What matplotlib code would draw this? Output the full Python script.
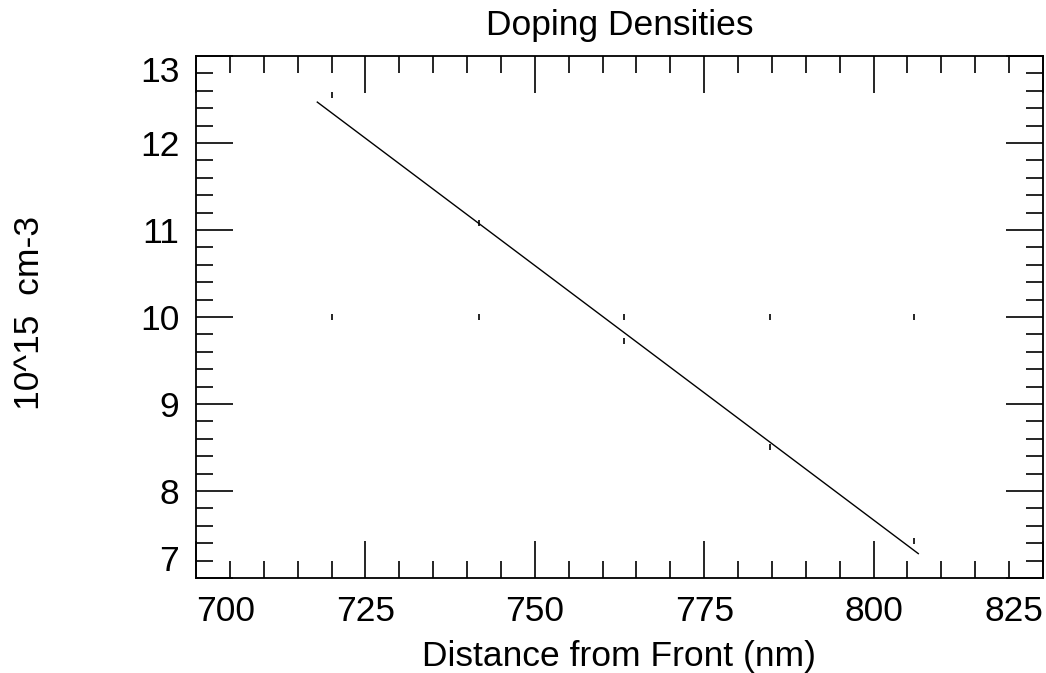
import matplotlib
matplotlib.use("Agg")
import matplotlib.pyplot as plt
from matplotlib.ticker import MultipleLocator

plt.rcParams["font.family"] = ["Liberation Sans", "DejaVu Sans"]

# fitted line (start / end)
fit_x = [717.9, 806.6]
fit_y = [12.47, 7.28]

# measured points (small vertical marks)
pts_x = [720.1, 741.8, 763.2, 784.7, 805.9]
pts_y = [12.55, 11.08, 9.72, 8.51, 7.42]
ref_y = [10.0, 10.0, 10.0, 10.0, 10.0]

x_ticks = [700, 725, 750, 775, 800, 825]
y_ticks = [7, 8, 9, 10, 11, 12, 13]

fig = plt.figure(figsize=(10.46, 6.73), dpi=100)
ax = fig.add_axes([0.1874, 0.1412, 0.8097, 0.7756])

ax.plot(fit_x, fit_y, color="black", lw=1.0)
ax.plot(pts_x, pts_y, ls="none", marker="|", ms=4.5, mew=1.2, color="black")
ax.plot(pts_x, ref_y, ls="none", marker="|", ms=4.5, mew=1.2, color="black")

ax.set_xlim(700, 825)
ax.set_ylim(7, 13)
ax.set_xticks(x_ticks)
ax.set_yticks(y_ticks)
ax.xaxis.set_minor_locator(MultipleLocator(5))
ax.yaxis.set_minor_locator(MultipleLocator(0.2))

ax.tick_params(which="both", direction="in", top=True, right=True, width=1.2, colors="black")
ax.tick_params(which="major", length=26.5, labelsize=25.5)
ax.tick_params(which="minor", length=12.5)
ax.tick_params(axis="x", which="major", pad=12)
ax.tick_params(axis="y", which="major", pad=12)
for s in ax.spines.values():
    s.set_linewidth(1.3)

# keep end labels inside the box, like the original
xt = ax.xaxis.get_major_ticks()
xt[0].label1.set_horizontalalignment("left")
xt[-1].label1.set_horizontalalignment("right")
yt = ax.yaxis.get_major_ticks()
yt[0].label1.set_verticalalignment("bottom")
yt[-1].label1.set_verticalalignment("top")

ax.set_title("Doping Densities", fontsize=25.5, pad=15)
ax.set_xlabel("Distance from Front (nm)", fontsize=25.5, labelpad=9)
fig.text(0.028, 0.535, "10^15  cm-3", fontsize=25.5, rotation=90, ha="center", va="center")

fig.savefig("out.png", dpi=100)
